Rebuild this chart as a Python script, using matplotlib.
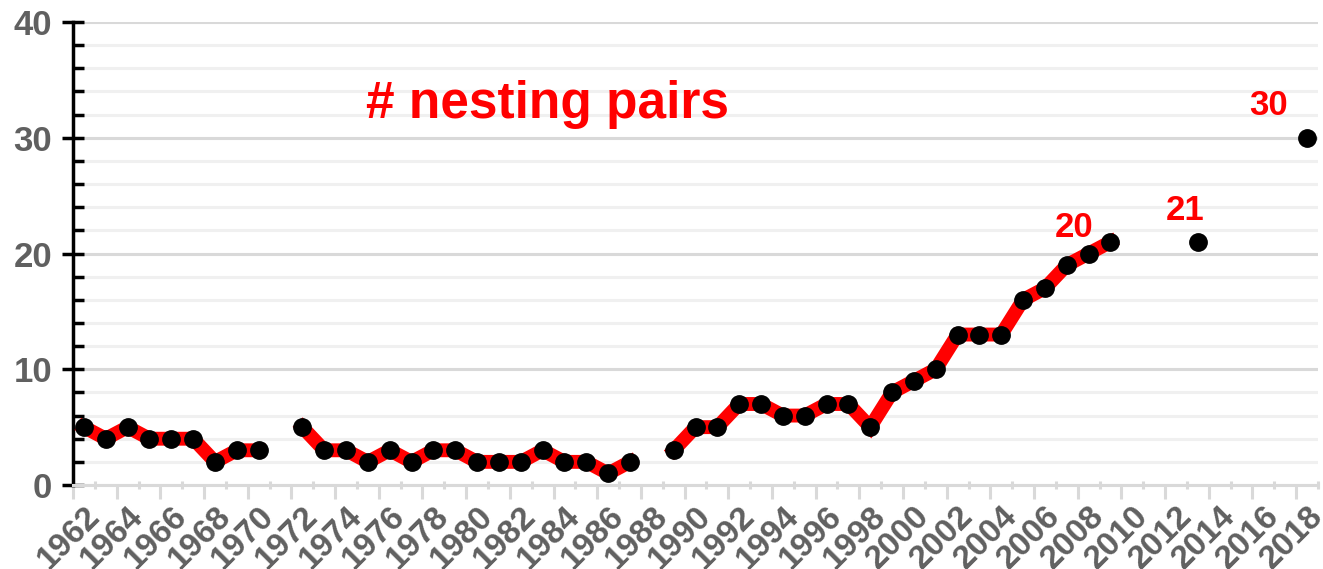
import numpy as np
import matplotlib.pyplot as plt

plt.rcParams['font.family'] = ['Liberation Sans', 'DejaVu Sans']

nan = np.nan
years = list(range(1962, 2019))
pairs = [5, 4, 5, 4, 4, 4, 2, 3, 3, nan,          # 1962-1971
         5, 3, 3, 2, 3, 2, 3, 3, 2, 2,             # 1972-1981
         2, 3, 2, 2, 1, 2, nan, 3, 5, 5,           # 1982-1991
         7, 7, 6, 6, 7, 7, 5, 8, 9, 10,            # 1992-2001
         13, 13, 13, 16, 17, 19, 20, 21, nan, nan,  # 2002-2011
         nan, 21, nan, nan, nan, nan, 30]          # 2012-2018
labelled = [(2008, 20), (2013, 21), (2018, 30)]
label_offsets = [(-15, 26), (-13, 31), (-39, 32)]
tick_years = years[::2]

grey = '#606060'

fig = plt.figure(figsize=(13.23, 5.69), dpi=100)
ax = fig.add_axes([0.0552, 0.1476, 0.9410, 0.8137])

ax.plot(years, pairs, color='red', lw=10, marker='o', ms=12.5,
        mfc='black', mec='black', solid_joinstyle='miter', zorder=3)

for (yr, v), (dx, dy) in zip(labelled, label_offsets):
    ax.annotate(str(v), xy=(yr, v), xytext=(dx, dy), textcoords='offset pixels',
                ha='center', va='center', color='red', fontsize=25,
                fontweight='bold')

ax.text(0.3815, 0.821, '# nesting pairs', transform=ax.transAxes, color='red',
        fontsize=37, fontweight='bold', ha='center', va='center')

ax.set_xlim(1961.5, 2018.5)
ax.set_ylim(0, 40)

# y axis
ax.set_yticks(range(0, 41, 10))
ax.set_yticks(range(0, 41, 2), minor=True)
ax.tick_params(axis='y', which='major', direction='inout', length=16, width=2.5,
               color='black', labelsize=25, labelcolor=grey, pad=7)
ax.tick_params(axis='y', which='minor', direction='in', length=8, width=2.5,
               color='black')
for lbl in ax.get_yticklabels():
    lbl.set_fontweight('bold')
ax.grid(axis='y', which='major', color='#d9d9d9', lw=2.2, zorder=0)
ax.grid(axis='y', which='minor', color='#f0f0f0', lw=2.2, zorder=0)

# x axis labels at category centres
ax.set_xticks(tick_years)
ax.set_xticklabels([str(y) for y in tick_years], rotation=45, ha='right',
                   rotation_mode='anchor', fontsize=24, fontweight='bold',
                   color=grey)
ax.tick_params(axis='x', which='major', length=0, pad=11)

# tick marks at category boundaries
sec = ax.secondary_xaxis(0)
sec.set_xticks(np.arange(1961.5, 2019, 2))
sec.set_xticks(np.arange(1962.5, 2019, 2), minor=True)
sec.set_xticklabels([])
sec.tick_params(which='major', direction='out', length=10, width=2.2, color='#d9d9d9')
sec.tick_params(which='minor', direction='inout', length=6, width=2.2, color='#d9d9d9')
sec.spines['bottom'].set_visible(False)

for s in ['top', 'right']:
    ax.spines[s].set_visible(False)
ax.spines['left'].set_color('black')
ax.spines['left'].set_linewidth(2.5)
ax.spines['bottom'].set_color('#d9d9d9')
ax.spines['bottom'].set_linewidth(2.2)
ax.set_axisbelow(True)

fig.savefig('out.png', dpi=100)
